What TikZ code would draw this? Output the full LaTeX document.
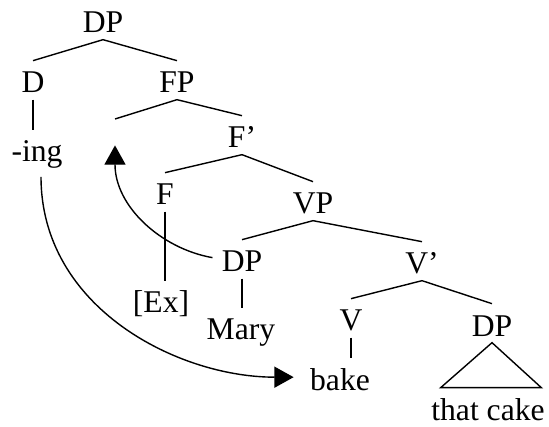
\documentclass[tikz,border=0pt]{standalone}
\usepackage{fontspec}
\setmainfont{Liberation Serif}
\usetikzlibrary{arrows.meta}

\begin{document}
\begin{tikzpicture}[>={Triangle[length=11pt,width=12pt]}, line width=0.8pt,
  font=\fontsize{18}{21.6}\selectfont,
  lbl/.style={anchor=base, inner sep=0pt, text height=18pt, text depth=3.4pt}]
  \useasboundingbox (0,0) rectangle (10.98,8.52);

  \node[lbl] (dp) at (2.06,7.86) {DP};
  \node[lbl] (d) at (0.66,6.66) {D};
  \node[lbl] (fp) at (3.54,6.66) {FP};
  \node[lbl, text depth=8pt] (ing) at (0.74,5.28) {-ing};
  \node[inner sep=0pt, minimum height=0.5cm, anchor=north] (spec) at (2.30,6.14) {};
  \node[lbl] (fbar) at (4.84,5.56) {F'};
  \node[lbl] (f) at (3.30,4.42) {F};
  \node[lbl] (vp) at (6.26,4.24) {VP};
  \node[lbl] (ex) at (3.22,2.26) {[Ex]};
  \node[lbl] (dpm) at (4.84,3.08) {DP};
  \node[lbl] (mary) at (4.82,1.72) {Mary};
  \node[lbl] (vbar) at (8.44,3.04) {V'};
  \node[lbl] (v) at (7.02,1.90) {V};
  \node[lbl] (dpr) at (9.84,1.80) {DP};
  \node[lbl] (bake) at (6.80,0.72) {bake};
  \node[lbl] (cake) at (9.76,0.12) {that cake};

  \draw (dp.south) -- (d.north);
  \draw (dp.south) -- (fp.north);
  \draw (d.south) -- (d.south |- ing.north);
  \draw (fp.south) -- (spec.north);
  \draw (fp.south) -- (fbar.north);
  \draw (fbar.south) -- (f.north);
  \draw (fbar.south) -- (vp.north);
  \draw (f.south) -- (f.south |- ex.north);
  \draw (vp.south) -- (dpm.north);
  \draw (vp.south) -- (vbar.north);
  \draw (dpm.south) -- (dpm.south |- mary.north);
  \draw (vbar.south) -- (v.north);
  \draw (vbar.south) -- (dpr.north);
  \draw (v.south) -- (v.south |- bake.north);
  \draw (dpr.south) -- ([xshift=0.2cm]cake.north west)
    -- ([xshift=-0.08cm]cake.north east) -- cycle;

  \draw[->, shorten >=9pt] ([xshift=0.08cm]ing.south) to[out=-90, in=180] (bake.west);
  \draw[->, shorten <=5pt] (dpm.west) to[out=170, in=-90] (spec.south);

\end{tikzpicture}
\end{document}
